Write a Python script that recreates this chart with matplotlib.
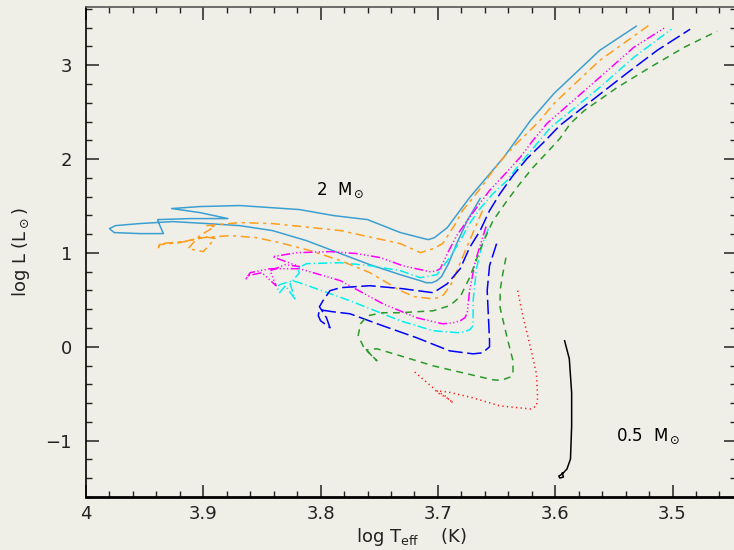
import matplotlib.pyplot as plt

# HR diagram tracks (log Teff, log L/Lsun)
logt_2msun = [3.664, 3.675, 3.684, 3.691, 3.697, 3.701, 3.705, 3.710, 3.715, 3.732,
              3.758, 3.783, 3.812, 3.841, 3.869, 3.897, 3.926, 3.954, 3.975, 3.980,
              3.976, 3.954, 3.934, 3.937, 3.939, 3.911, 3.879, 3.903, 3.927, 3.903,
              3.869, 3.818, 3.789, 3.760, 3.732, 3.712, 3.708, 3.703, 3.692, 3.673,
              3.644, 3.621, 3.601, 3.562, 3.531]
logl_2msun = [1.580, 1.345, 1.099, 0.886, 0.747, 0.704, 0.683, 0.683, 0.704, 0.768,
              0.875, 0.993, 1.131, 1.238, 1.291, 1.313, 1.334, 1.313, 1.291, 1.259,
              1.217, 1.206, 1.206, 1.291, 1.355, 1.366, 1.366, 1.430, 1.473, 1.494,
              1.505, 1.462, 1.398, 1.355, 1.217, 1.153, 1.142, 1.163, 1.270, 1.590,
              2.017, 2.412, 2.700, 3.159, 3.415]

logt_orange = [3.662, 3.673, 3.681, 3.688, 3.695, 3.700, 3.705, 3.720, 3.732, 3.758,
               3.783, 3.809, 3.835, 3.855, 3.877, 3.900, 3.920, 3.937, 3.939, 3.937,
               3.916, 3.899, 3.890, 3.900, 3.913, 3.903, 3.890, 3.897, 3.869, 3.841,
               3.783, 3.732, 3.715, 3.704, 3.696, 3.685, 3.679, 3.670, 3.662, 3.653,
               3.644, 3.633, 3.624, 3.613, 3.601, 3.562, 3.520]
logl_orange = [1.451, 1.131, 0.896, 0.683, 0.555, 0.523, 0.512, 0.534, 0.598, 0.790,
               0.918, 1.025, 1.110, 1.163, 1.185, 1.163, 1.110, 1.089, 1.035, 1.099,
               1.121, 1.174, 1.153, 1.014, 1.046, 1.185, 1.281, 1.291, 1.323, 1.313,
               1.238, 1.099, 1.003, 1.046, 1.099, 1.313, 1.451, 1.590, 1.718, 1.878,
               2.017, 2.166, 2.273, 2.412, 2.593, 3.052, 3.426]

logt_magenta = [3.659, 3.664, 3.668, 3.673, 3.675, 3.677, 3.681, 3.687, 3.696, 3.718,
                3.747, 3.783, 3.818, 3.843, 3.860, 3.864, 3.862, 3.850, 3.838, 3.843,
                3.830, 3.818, 3.841, 3.820, 3.792, 3.769, 3.749, 3.730, 3.707, 3.702,
                3.698, 3.692, 3.684, 3.675, 3.667, 3.656, 3.644, 3.630, 3.619, 3.607,
                3.562, 3.533, 3.506]
logl_magenta = [1.281, 1.078, 0.918, 0.598, 0.363, 0.309, 0.277, 0.256, 0.245, 0.309,
                0.459, 0.704, 0.832, 0.832, 0.790, 0.715, 0.758, 0.790, 0.651, 0.811,
                0.875, 0.854, 0.960, 1.003, 1.014, 0.993, 0.950, 0.864, 0.800, 0.806,
                0.832, 0.993, 1.185, 1.345, 1.483, 1.665, 1.825, 2.017, 2.199, 2.380,
                2.871, 3.191, 3.404]

logt_cyan = [3.657, 3.662, 3.667, 3.670, 3.670, 3.673, 3.681, 3.704, 3.732, 3.775,
             3.818, 3.824, 3.835, 3.837, 3.835, 3.830, 3.822, 3.826, 3.818, 3.820,
             3.812, 3.783, 3.758, 3.732, 3.715, 3.701, 3.690, 3.681, 3.673, 3.664,
             3.653, 3.641, 3.630, 3.619, 3.604, 3.562, 3.533, 3.501]
logl_cyan = [1.259, 1.099, 0.843, 0.491, 0.224, 0.181, 0.149, 0.171, 0.277, 0.491,
             0.683, 0.704, 0.662, 0.630, 0.576, 0.651, 0.512, 0.672, 0.790, 0.832,
             0.886, 0.896, 0.864, 0.811, 0.736, 0.768, 0.950, 1.131, 1.313, 1.473,
             1.633, 1.772, 1.953, 2.113, 2.337, 2.764, 3.084, 3.383]

logt_blue = [3.650, 3.656, 3.658, 3.657, 3.656, 3.656, 3.662, 3.670, 3.690, 3.718,
             3.747, 3.775, 3.790, 3.801, 3.802, 3.800, 3.792, 3.795, 3.801, 3.798,
             3.792, 3.783, 3.758, 3.730, 3.704, 3.692, 3.681, 3.673, 3.664, 3.656,
             3.647, 3.636, 3.624, 3.610, 3.596, 3.539, 3.513, 3.485]
logl_blue = [1.099, 0.864, 0.598, 0.331, 0.064, 0.000, -0.064, -0.075, -0.043, 0.096,
             0.224, 0.352, 0.374, 0.395, 0.331, 0.277, 0.203, 0.309, 0.427, 0.491,
             0.598, 0.630, 0.651, 0.619, 0.576, 0.672, 0.832, 1.057, 1.238, 1.451,
             1.633, 1.825, 2.006, 2.177, 2.359, 2.914, 3.159, 3.383]

logt_green = [3.642, 3.645, 3.647, 3.647, 3.641, 3.636, 3.636, 3.638, 3.646, 3.653,
              3.675, 3.704, 3.732, 3.752, 3.761, 3.752, 3.763, 3.768, 3.766, 3.760,
              3.747, 3.732, 3.704, 3.690, 3.681, 3.673, 3.662, 3.653, 3.641, 3.630,
              3.619, 3.607, 3.596, 3.587, 3.575, 3.547, 3.519, 3.490, 3.462]
logl_green = [0.950, 0.758, 0.598, 0.416, 0.096, -0.149, -0.277, -0.320, -0.358, -0.352,
              -0.288, -0.203, -0.096, -0.021, -0.032, -0.149, -0.011, 0.117, 0.245, 0.331,
              0.363, 0.363, 0.384, 0.438, 0.534, 0.736, 1.099, 1.345, 1.558, 1.740,
              1.910, 2.070, 2.220, 2.380, 2.519, 2.764, 2.978, 3.191, 3.362]

logt_red = [3.632, 3.628, 3.621, 3.616, 3.615, 3.616, 3.621, 3.647, 3.670, 3.692,
            3.701, 3.694, 3.687, 3.691, 3.700, 3.704, 3.721]
logl_red = [0.598, 0.352, -0.011, -0.288, -0.544, -0.630, -0.662, -0.630, -0.544, -0.480,
            -0.470, -0.523, -0.598, -0.555, -0.491, -0.438, -0.256]

logt_05msun = [3.592, 3.588, 3.586, 3.586, 3.587, 3.590, 3.594, 3.597, 3.596, 3.593, 3.594]
logl_05msun = [0.064, -0.128, -0.491, -0.843, -1.195, -1.302, -1.355, -1.377, -1.398, -1.387, -1.345]

mass_labels = [r'2  M$_\odot$', r'0.5  M$_\odot$']
label_logt = [3.783, 3.521]
label_logl = [1.665, -0.95]

BG = '#f0efe7'

tracks = [
    (logt_2msun, logl_2msun, '#3c9fd2', None),
    (logt_orange, logl_orange, '#ff9d1c', (6, 3, 2, 3)),
    (logt_magenta, logl_magenta, '#ff00ff', (6, 1.6, 0.8, 1.6, 0.8, 1.6, 0.8, 1.6)),
    (logt_cyan, logl_cyan, '#00f0f0', (6, 2, 0.8, 2)),
    (logt_blue, logl_blue, '#0000ff', (9.5, 3)),
    (logt_green, logl_green, '#2a9a2a', (4.5, 3.5)),
    (logt_red, logl_red, '#ff1010', (0.8, 2.2)),
    (logt_05msun, logl_05msun, 'black', None),
]

fig = plt.figure(figsize=(7.34, 5.5), dpi=100, facecolor=BG)
# right edge of the frame sits just past the picture, as in the original
ax = fig.add_axes([86 / 734, 1 - 497 / 550, 650 / 734, 490 / 550], facecolor=BG)

for xs, ys, col, dash in tracks:
    if dash is None:
        ax.plot(xs, ys, color=col, lw=1.1, solid_joinstyle='round')
    else:
        ax.plot(xs, ys, color=col, lw=1.1, dashes=dash, dash_joinstyle='round')

for txt, x, y in zip(mass_labels, label_logt, label_logl):
    ax.text(x, y, txt, fontsize=12, ha='center', va='center')

ax.set_xlim(4.0, 3.4459)
ax.set_ylim(-1.6, 3.62)
ax.set_xticks([4.0, 3.9, 3.8, 3.7, 3.6, 3.5])
ax.set_xticklabels(['4', '3.9', '3.8', '3.7', '3.6', '3.5'])
ax.set_yticks([-1, 0, 1, 2, 3])
ax.set_xticks([4.0 - 0.02 * i for i in range(28)], minor=True)
ax.set_yticks([-1.6 + 0.2 * i for i in range(27)], minor=True)

ax.tick_params(which='both', direction='in', top=True, right=True, colors='#222222',
               labelcolor='#222222', labelsize=13)
ax.tick_params(which='major', length=9, width=1.1)
ax.tick_params(which='minor', length=4.5, width=1.0)
ax.tick_params(axis='x', pad=6)
ax.tick_params(axis='y', pad=10)

for side in ['left', 'top', 'right']:
    ax.spines[side].set_linewidth(1.2)
ax.spines['top'].set_color('#555555')
ax.spines['bottom'].set_linewidth(2.0)

ax.set_xlabel(r'log T$_{\rm eff}$    (K)', fontsize=13, color='#222222', labelpad=2)
ax.set_ylabel(r'log L (L$_\odot$)', fontsize=13, color='#222222', labelpad=10)

fig.savefig('out.png', dpi=100, facecolor=BG)
